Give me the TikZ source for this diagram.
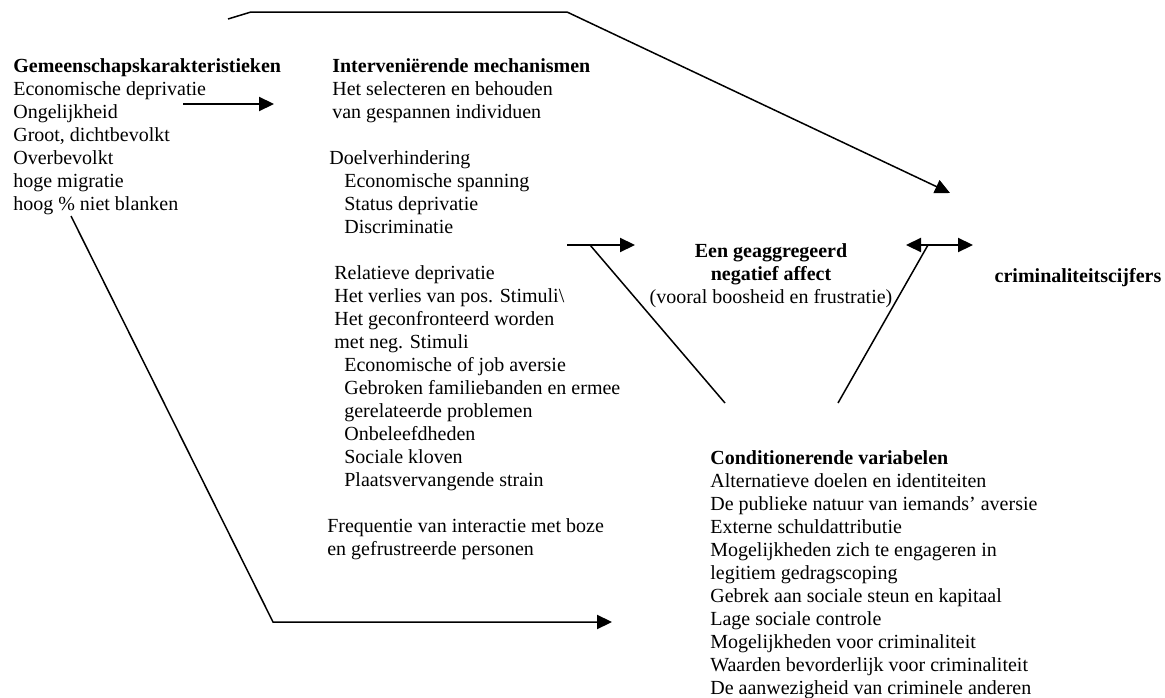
\documentclass[tikz,border=0pt]{standalone}
\usepackage{fontspec}
\setmainfont{Liberation Serif}
\usetikzlibrary{arrows.meta,positioning}
\tikzset{blok/.style={anchor=north west, inner sep=0pt, align=left, font=\fontsize{12}{13.8}\selectfont}}
\tikzset{pijl/.style={-{Triangle[length=9pt,width=8.5pt]}}}
\tikzset{dubbelpijl/.style={{Triangle[length=9pt,width=8.5pt]}-{Triangle[length=9pt,width=8.5pt]}}}
\tikzset{lijn/.style={line width=0.9pt}}

\begin{document}
\begin{tikzpicture}[x=0.6pt, y=-0.6pt]
    \useasboundingbox (0,0) rectangle (1165,698);

    % tekstblokken
    \node[blok] (gemeen) at (13,56) {\strut\textbf{Gemeenschapskarakteristieken}\\Economische deprivatie\\Ongelijkheid\\Groot, dichtbevolkt\\Overbevolkt\\hoge migratie\\hoog \% niet blanken};

    \node[blok] (mech) at (332,56) {\strut\textbf{Interveniërende mechanismen}\\Het selecteren en behouden\\van gespannen individuen};
    \node[blok] (doel) at (329,148) {\strut Doelverhindering\\\hspace*{9pt}Economische spanning\\\hspace*{9pt}Status deprivatie\\\hspace*{9pt}Discriminatie};
    \node[blok] (reldep) at (334,263) {\strut Relatieve deprivatie\\Het verlies van pos. Stimuli\textbackslash\\Het geconfronteerd worden\\met neg. Stimuli\\\hspace*{6pt}Economische of job aversie\\\hspace*{6pt}Gebroken familiebanden en ermee\\\hspace*{6pt}gerelateerde problemen\\\hspace*{6pt}Onbeleefdheden\\\hspace*{6pt}Sociale kloven\\\hspace*{6pt}Plaatsvervangende strain};
    \node[blok] (freq) at (327,516) {\strut Frequentie van interactie met boze\\en gefrustreerde personen};

    \node[blok, align=center, anchor=north] (affect) at (771,241) {\strut\textbf{Een geaggregeerd}\\\textbf{negatief affect}\\(vooral boosheid en frustratie)};
    \node[blok, anchor=center] (cijfers) at (1078,278) {\textbf{criminaliteitscijfers}};

    \node[blok] (cond) at (710,448) {\strut\textbf{Conditionerende variabelen}\\Alternatieve doelen en identiteiten\\De publieke natuur van iemands' aversie\\Externe schuldattributie\\Mogelijkheden zich te engageren in\\legitiem gedragscoping\\Gebrek aan sociale steun en kapitaal\\Lage sociale controle\\Mogelijkheden voor criminaliteit\\Waarden bevorderlijk voor criminaliteit\\De aanwezigheid van criminele anderen};

    % eindpunten van de pijlen
    \coordinate (boven1) at (228,19);
    \coordinate (boven2) at (251,12);
    \coordinate (boven3) at (567,12);
    \coordinate (boven4) at (950,193);
    \coordinate (econ1) at (183,104);
    \coordinate (econ2) at (274,104);
    \coordinate (onder1) at (71,216);
    \coordinate (onder2) at (273,622);
    \coordinate (onder3) at (612,622);
    \coordinate (discr1) at (567,245);
    \coordinate (discr2) at (635,245);
    \coordinate (discrvoet) at (590,245);
    \coordinate (condlinks) at (725,403);
    \coordinate (crim1) at (906,245);
    \coordinate (crim2) at (973,245);
    \coordinate (crimvoet) at (928,245);
    \coordinate (condrechts) at (838,403);

    \draw[lijn, pijl] (boven1) -- (boven2) -- (boven3) -- (boven4);
    \draw[lijn, pijl] (econ1) -- (econ2);
    \draw[lijn, pijl] (onder1) -- (onder2) -- (onder3);
    \draw[lijn, pijl] (discr1) -- (discr2);
    \draw[lijn] (discrvoet) -- (condlinks);
    \draw[lijn, dubbelpijl] (crim1) -- (crim2);
    \draw[lijn] (crimvoet) -- (condrechts);
\end{tikzpicture}
\end{document}
